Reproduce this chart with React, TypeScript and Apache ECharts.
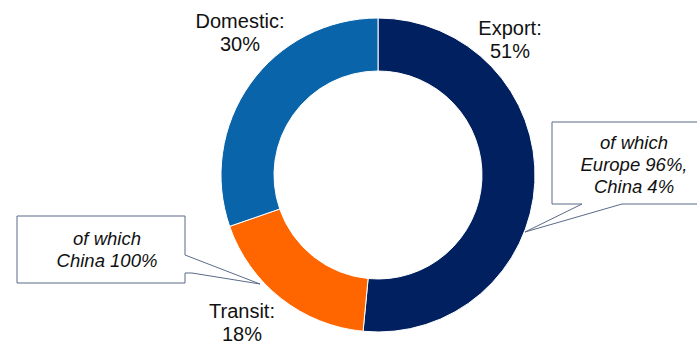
import React, { useEffect, useRef } from "react";
import * as echarts from "echarts";

const categories = ["Export", "Transit", "Domestic"];
const shares = [51, 18, 30];
const colors = ["#002060", "#FF6600", "#0A64AA"];
const exportNote = ["of which", "Europe 96%,", "China 4%"];
const transitNote = ["of which", "China 100%"];

const labelPos: Record<number, [number, number]> = {
  0: [510, 39],
  1: [242, 322],
  2: [240, 32],
};

export default function App() {
  const ref = useRef<HTMLDivElement>(null);
  useEffect(() => {
    document.body.style.margin = "0";
    const chart = echarts.init(ref.current!, null, { renderer: "svg" });
    const edge = "#5B6B88";
    chart.setOption({
      animation: false,
      backgroundColor: "#ffffff",
      series: [
        {
          type: "pie",
          center: [378, 175],
          radius: [104, 157],
          startAngle: 90,
          clockwise: true,
          silent: true,
          itemStyle: { borderColor: "#ffffff", borderWidth: 1 },
          label: {
            show: true,
            position: "outside",
            formatter: "{b}:\n{c}%",
            fontFamily: "Liberation Sans, Arial, sans-serif",
            fontSize: 20,
            lineHeight: 23,
            color: "#111111",
            align: "center",
          },
          labelLine: { show: false },
          labelLayout: (p: any) => {
            const pos = labelPos[p.dataIndex];
            return { x: pos[0], y: pos[1], align: "center", verticalAlign: "middle" };
          },
          data: categories.map((c, i) => ({
            name: c,
            value: shares[i],
            itemStyle: { color: colors[i] },
          })),
        },
      ],
      graphic: [
        {
          type: "polygon",
          shape: {
            points: [
              [552, 122], [700, 122], [700, 204], [622, 204], [525, 232], [582, 204], [552, 204],
            ],
          },
          style: { fill: "#ffffff", stroke: edge, lineWidth: 1 },
        },
        {
          type: "text",
          x: 634,
          y: 164,
          style: {
            text: exportNote.join("\n"),
            font: "italic 18.5px 'Liberation Sans', Arial, sans-serif",
            lineHeight: 22,
            fill: "#111111",
            align: "center",
            verticalAlign: "middle",
          },
        },
        {
          type: "polygon",
          shape: {
            points: [
              [17, 216], [185, 216], [185, 255], [260, 284], [192, 273], [185, 273], [185, 283], [17, 283],
            ],
          },
          style: { fill: "#ffffff", stroke: edge, lineWidth: 1 },
        },
        {
          type: "text",
          x: 107,
          y: 249,
          style: {
            text: transitNote.join("\n"),
            font: "italic 18.5px 'Liberation Sans', Arial, sans-serif",
            lineHeight: 22,
            fill: "#111111",
            align: "center",
            verticalAlign: "middle",
          },
        },
      ],
    });
    return () => chart.dispose();
  }, []);
  return (
    <div
      ref={ref}
      style={{ position: "absolute", left: 0, top: 0, width: 697, height: 345 }}
    />
  );
}
